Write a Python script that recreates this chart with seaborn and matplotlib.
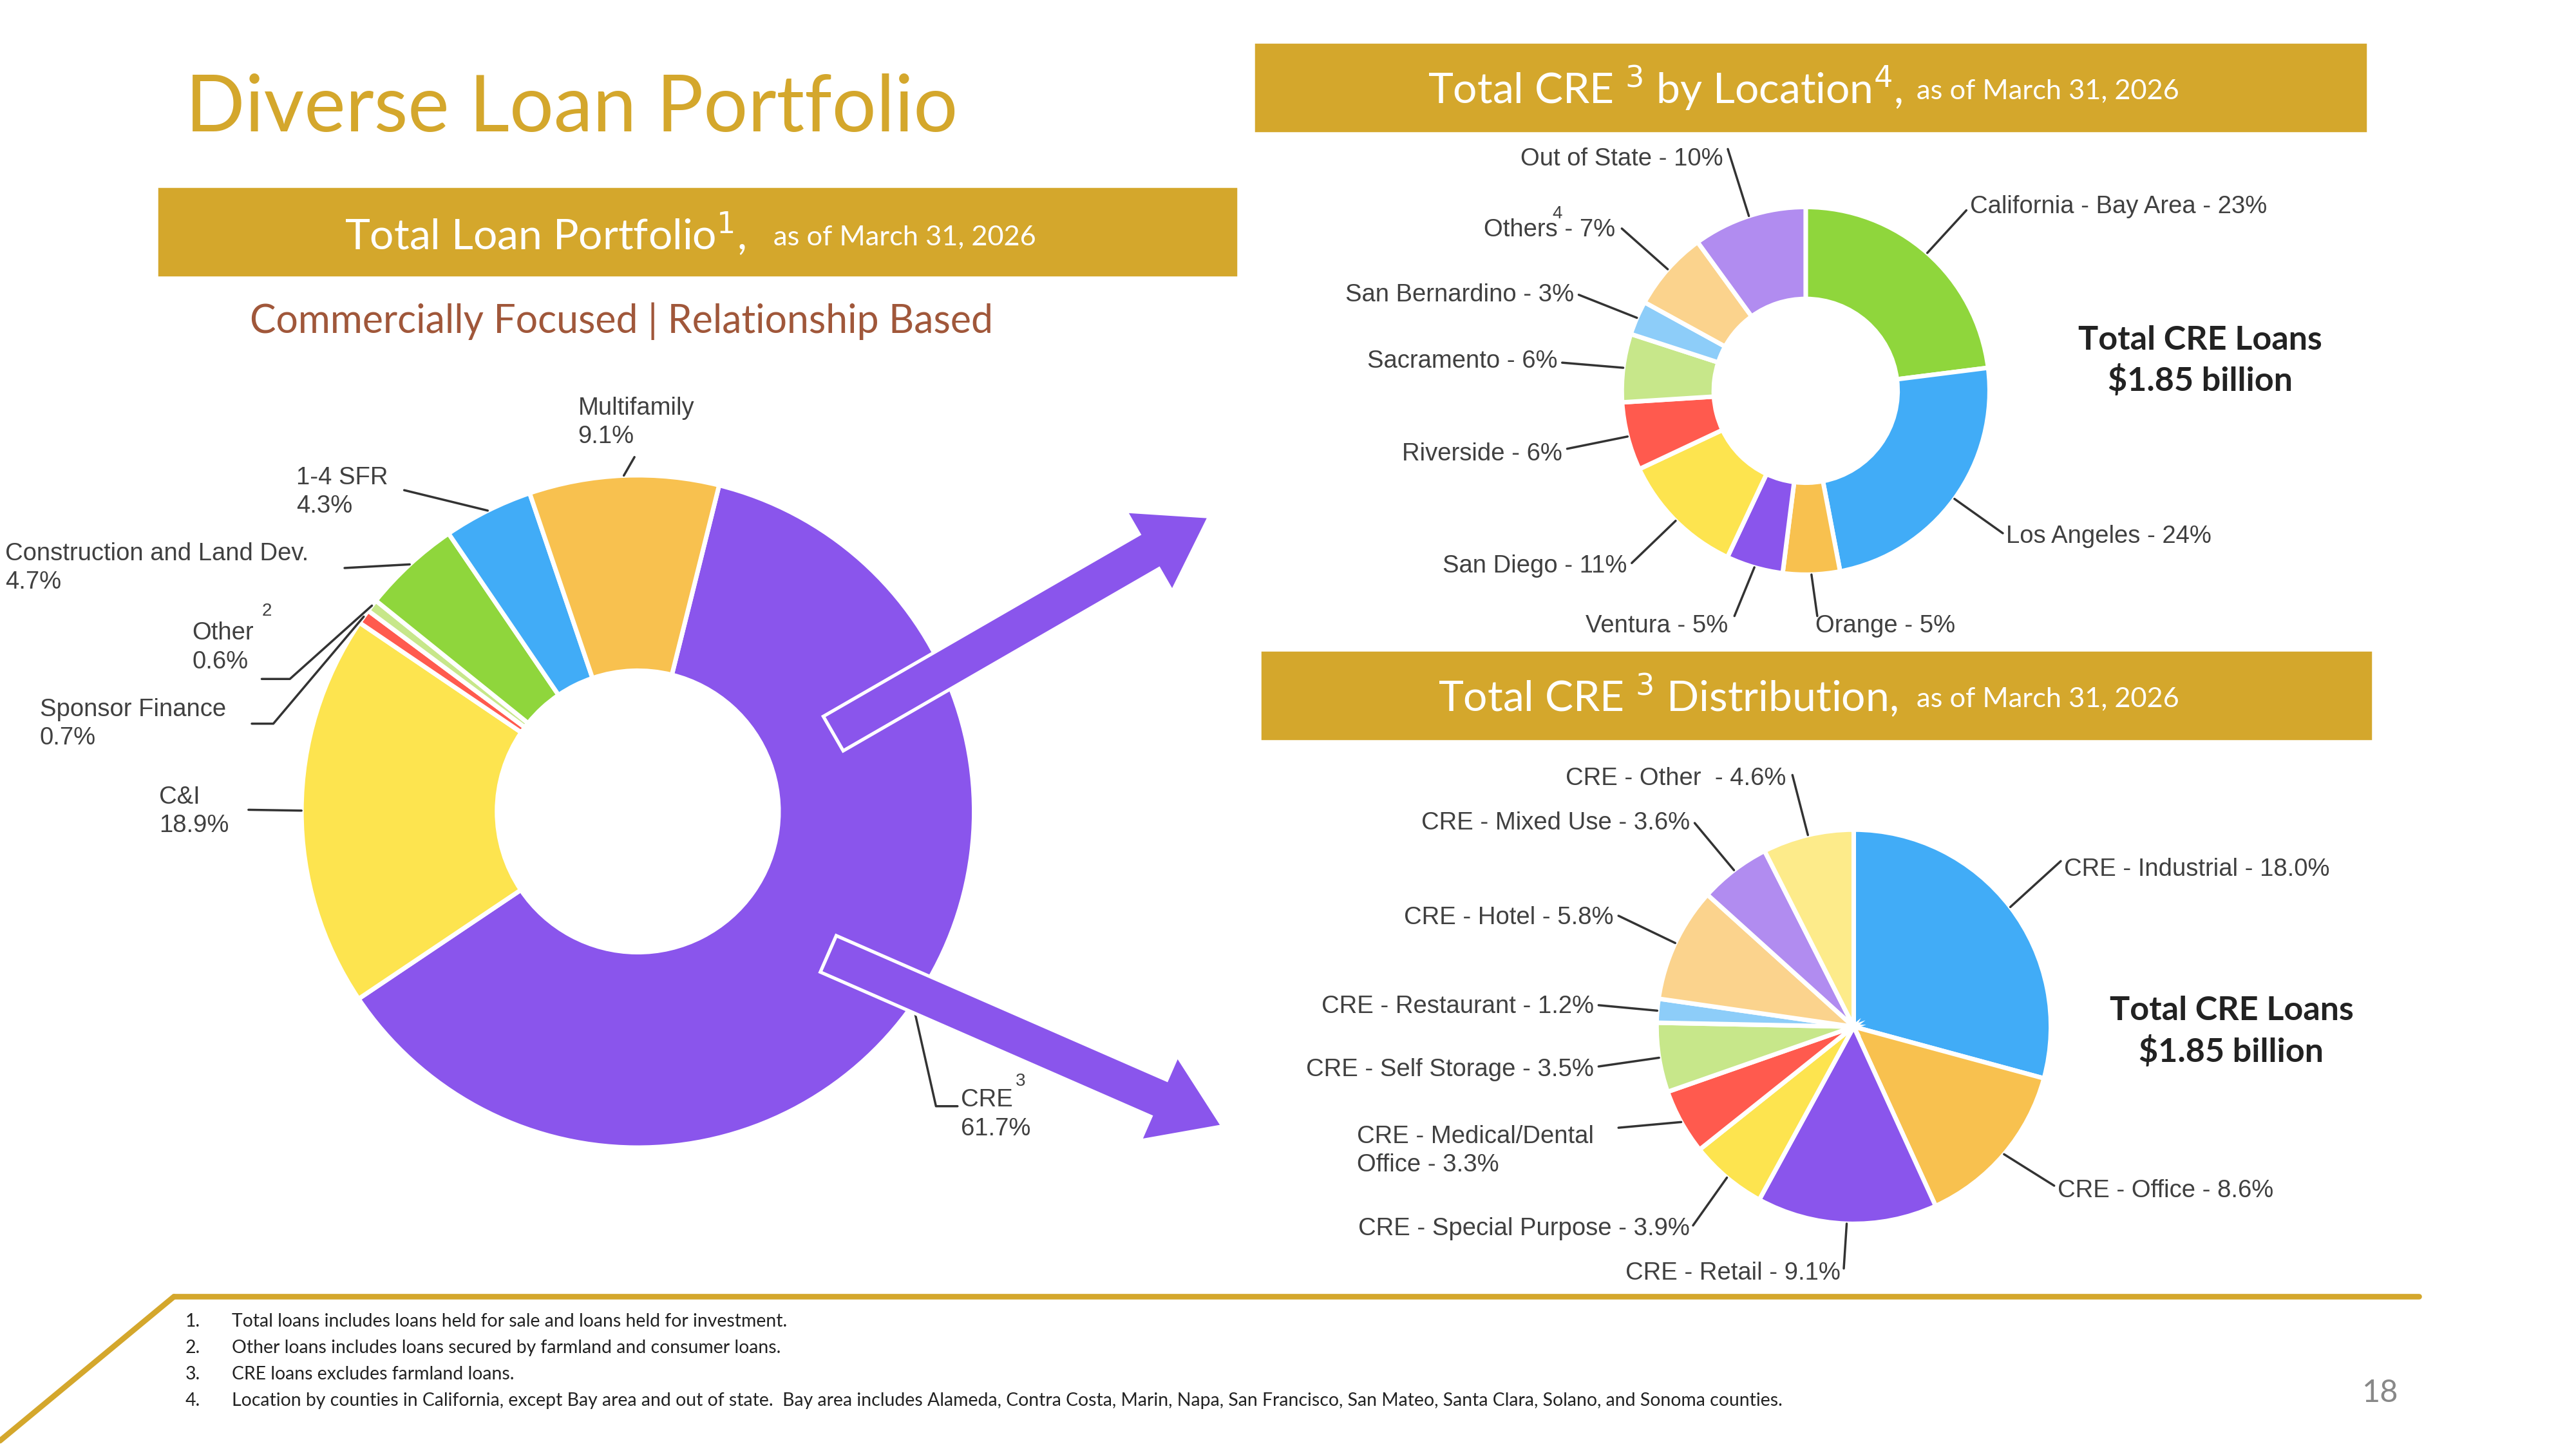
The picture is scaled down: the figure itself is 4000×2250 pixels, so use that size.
import numpy as np
import matplotlib
matplotlib.use("Agg")
import matplotlib.pyplot as plt
from matplotlib.patches import Rectangle, FancyArrow
import seaborn as sns

sns.set_theme(style="white")
plt.rcParams["font.family"] = ["Liberation Sans", "DejaVu Sans"]

# ---------------------------------------------------------------------------
# Data
# ---------------------------------------------------------------------------
loan_cats = ["CRE", "C&I", "Sponsor Finance", "Other", "Construction and Land Dev.", "1-4 SFR", "Multifamily"]
loan_vals = [61.7, 18.9, 0.7, 0.6, 4.7, 4.3, 9.1]

loc_cats = ["California - Bay Area", "Los Angeles", "Orange", "Ventura", "San Diego",
            "Riverside", "Sacramento", "San Bernardino", "Others", "Out of State"]
loc_vals = [23, 24, 5, 5, 11, 6, 6, 3, 7, 10]

dist_cats = ["CRE - Industrial", "CRE - Office", "CRE - Retail", "CRE - Special Purpose",
             "CRE - Medical/Dental Office", "CRE - Self Storage", "CRE - Restaurant",
             "CRE - Hotel", "CRE - Mixed Use", "CRE - Other"]
dist_vals = [18.0, 8.6, 9.1, 3.9, 3.3, 3.5, 1.2, 5.8, 3.6, 4.6]

footnotes = [
    "Total loans includes loans held for sale and loans held for investment.",
    "Other loans includes loans secured by farmland and consumer loans.",
    "CRE loans excludes farmland loans.",
    "Location by counties in California, except Bay area and out of state.  Bay area includes Alameda, "
    "Contra Costa, Marin, Napa, San Francisco, San Mateo, Santa Clara, Solano, and Sonoma counties.",
]

# ---------------------------------------------------------------------------
# Style
# ---------------------------------------------------------------------------
GOLD = "#D4A72C"
PURPLE = "#8A55EC"
YELLOW = "#FDE44F"
RED = "#FF5A4E"
LGREEN = "#C7E78A"
GREEN = "#8FD63C"
BLUE = "#41ACF7"
ORANGE = "#F8C14F"
LBLUE = "#8DCDF9"
PEACH = "#FBD38D"
LAV = "#B18CF0"
PALEY = "#FDEB8A"
TXT = "#404040"
TITLE_FONT = ["Lato", "DejaVu Sans"]

loan_colors = [PURPLE, YELLOW, RED, LGREEN, GREEN, BLUE, ORANGE]
loc_colors = [GREEN, BLUE, ORANGE, PURPLE, YELLOW, RED, LGREEN, LBLUE, PEACH, LAV]
dist_colors = [BLUE, ORANGE, PURPLE, YELLOW, RED, LGREEN, LBLUE, PEACH, LAV, PALEY]

W, H = 1555.0, 875.0
fig = plt.figure(figsize=(16, 9), dpi=250)

ov = fig.add_axes([0, 0, 1, 1], zorder=5)
ov.set_xlim(0, W)
ov.set_ylim(H, 0)
ov.axis("off")
ov.patch.set_alpha(0)


def pie_axes(cx, cy, r):
    ax = fig.add_axes([(cx - r) / W, 1 - (cy + r) / H, 2 * r / W, 2 * r / H], zorder=1)
    ax.axis("off")
    return ax


def fix_limits(ax):
    ax.set_aspect("auto")
    ax.set_xlim(-1, 1)
    ax.set_ylim(-1, 1)


def edge_points(vals, start, cx, cy, r):
    fr = np.array(vals, float) / np.sum(vals)
    cum = np.cumsum(fr) - fr / 2
    th = np.deg2rad(start - 360 * cum)
    return cx + r * np.cos(th), cy - r * np.sin(th)


def draw_labels(specs, ex, ey, size=11):
    for (txt, tx, ty, ha, pts), x, y in zip(specs, ex, ey):
        ov.text(tx, ty, txt, ha=ha, va="center", fontsize=size, color=TXT, linespacing=1.3)
        xs = [p[0] for p in pts] + [x]
        ys = [p[1] for p in pts] + [y]
        ov.plot(xs, ys, color="#333333", lw=1.0)


# ---------------------------------------------------------------------------
# Titles and banners
# ---------------------------------------------------------------------------
ov.text(112, 66, "Diverse Loan Portfolio", fontsize=35, color=GOLD, family=TITLE_FONT,
        va="center", ha="left")

for x0, y0, x1, y1 in [(96, 114, 746, 166), (758, 27, 1428, 79), (762, 394, 1431, 446)]:
    ov.add_patch(Rectangle((x0, y0), x1 - x0, y1 - y0, color=GOLD, zorder=0))

ov.text(208, 141, r"Total Loan Portfolio$^{1}$,", fontsize=19, color="white",
        family=TITLE_FONT, va="center")
ov.text(467, 143, "as of March 31, 2026", fontsize=12.5, color="white", family=TITLE_FONT, va="center")
ov.text(862, 53, r"Total CRE $^{3}$ by Location$^{4}$,", fontsize=19, color="white",
        family=TITLE_FONT, va="center")
ov.text(1157, 55, "as of March 31, 2026", fontsize=12.5, color="white", family=TITLE_FONT, va="center")
ov.text(868, 420, r"Total CRE $^{3}$ Distribution,", fontsize=19, color="white",
        family=TITLE_FONT, va="center")
ov.text(1157, 422, "as of March 31, 2026", fontsize=12.5, color="white", family=TITLE_FONT, va="center")

ov.text(375, 194, "Commercially Focused | Relationship Based", fontsize=17.5, color="#A0573A",
        family=TITLE_FONT, ha="center", va="center")

ov.text(1328, 218, "Total CRE Loans\n$1.85 billion", fontsize=15, color="#222222",
        family=TITLE_FONT, ha="center", va="center", linespacing=1.35, fontweight="bold")
ov.text(1347, 623, "Total CRE Loans\n$1.85 billion", fontsize=15, color="#222222",
        family=TITLE_FONT, ha="center", va="center", linespacing=1.35, fontweight="bold")

# ---------------------------------------------------------------------------
# Big donut
# ---------------------------------------------------------------------------
cx, cy, r = 385, 490, 203
ax1 = pie_axes(cx, cy, r)
ax1.pie(loan_vals, colors=loan_colors, startangle=76, counterclock=False, radius=1,
        wedgeprops=dict(width=1 - 85 / 203, edgecolor="white", linewidth=2))
fix_limits(ax1)
ex, ey = edge_points(loan_vals, 76, cx, cy, r)
loan_specs = [
    ("CRE\n61.7%", 580, 673, "left", [(578, 668), (565, 668)]),
    ("C&I\n18.9%", 96, 490, "left", [(150, 489)]),
    ("Sponsor Finance\n0.7%", 24, 437, "left", [(152, 437), (165, 437)]),
    ("Other\n0.6%", 116, 391, "left", [(158, 410), (175, 410)]),
    ("Construction and Land Dev.\n4.7%", 3, 343, "left", [(208, 343)]),
    ("1-4 SFR\n4.3%", 179, 297, "left", [(244, 296)]),
    ("Multifamily\n9.1%", 349, 255, "left", [(383, 276)]),
]
draw_labels(loan_specs, ex, ey)
ov.text(158, 369, "2", fontsize=8, color=TXT, va="center")
ov.text(613, 653, "3", fontsize=8, color=TXT, va="center")

# ---------------------------------------------------------------------------
# Location donut
# ---------------------------------------------------------------------------
cx, cy, r = 1090, 236, 111
ax2 = pie_axes(cx, cy, r)
ax2.pie(loc_vals, colors=loc_colors, startangle=90, counterclock=False, radius=1,
        wedgeprops=dict(width=0.5, edgecolor="white", linewidth=2))
fix_limits(ax2)
ex, ey = edge_points(loc_vals, 90, cx, cy, r)
loc_specs = [
    ("California - Bay Area - 23%", 1189, 125, "left", [(1187, 127)]),
    ("Los Angeles - 24%", 1211, 324, "left", [(1209, 322)]),
    ("Orange - 5%", 1096, 378, "left", [(1097, 372)]),
    ("Ventura - 5%", 1043, 378, "right", [(1047, 372)]),
    ("San Diego - 11%", 982, 342, "right", [(985, 340)]),
    ("Riverside - 6%", 943, 274, "right", [(946, 271)]),
    ("Sacramento - 6%", 940, 218, "right", [(943, 219)]),
    ("San Bernardino - 3%", 950, 178, "right", [(953, 178)]),
    ("Others - 7%", 975, 139, "right", [(979, 138)]),
    ("Out of State - 10%", 1040, 96, "right", [(1043, 90)]),
]
draw_labels(loc_specs, ex, ey)
ov.text(937, 129, "4", fontsize=8, color=TXT, va="center")

# ---------------------------------------------------------------------------
# Distribution pie
# ---------------------------------------------------------------------------
cx, cy, r = 1119, 620, 119
ax3 = pie_axes(cx, cy, r)
ax3.pie(dist_vals, colors=dist_colors, startangle=90, counterclock=False, radius=1,
        wedgeprops=dict(edgecolor="white", linewidth=2))
fix_limits(ax3)
ex, ey = edge_points(dist_vals, 90, cx, cy, r)
dist_specs = [
    ("CRE - Industrial - 18.0%", 1246, 525, "left", [(1244, 520)]),
    ("CRE - Office - 8.6%", 1242, 719, "left", [(1240, 716)]),
    ("CRE - Retail - 9.1%", 1111, 769, "right", [(1113, 766)]),
    ("CRE - Special Purpose - 3.9%", 1020, 742, "right", [(1022, 740)]),
    ("CRE - Medical/Dental\nOffice - 3.3%", 819, 695, "left", [(977, 681)]),
    ("CRE - Self Storage - 3.5%", 962, 646, "right", [(965, 644)]),
    ("CRE - Restaurant - 1.2%", 962, 608, "right", [(965, 607)]),
    ("CRE - Hotel - 5.8%", 974, 554, "right", [(977, 553)]),
    ("CRE - Mixed Use - 3.6%", 1020, 497, "right", [(1023, 497)]),
    ("CRE - Other  - 4.6%", 1078, 470, "right", [(1082, 468)]),
]
draw_labels(dist_specs, ex, ey)

# ---------------------------------------------------------------------------
# Arrows
# ---------------------------------------------------------------------------
for (x0, y0, x1, y1) in [(503, 443, 730, 312), (500, 576, 738, 680)]:
    ov.add_patch(FancyArrow(x0, y0, x1 - x0, y1 - y0, width=24, head_width=56,
                            head_length=42, length_includes_head=True,
                            facecolor=PURPLE, edgecolor="white", lw=1.5, zorder=6))

# ---------------------------------------------------------------------------
# Footer
# ---------------------------------------------------------------------------
ov.plot([105, 1460], [783, 783], color=GOLD, lw=2.5)
ov.plot([0, 105], [870, 783], color=GOLD, lw=2.5)
for i, fn in enumerate(footnotes):
    y = 798 + 16 * i
    ov.text(112, y, f"{i + 1}.", fontsize=8.2, color="#222222", family=TITLE_FONT, va="center")
    ov.text(140, y, fn, fontsize=8.2, color="#222222", family=TITLE_FONT, va="center")
ov.text(1437, 841, "18", fontsize=14, color="#888888", family=TITLE_FONT, ha="center", va="center")

fig.savefig("out.png", dpi=250, facecolor="white")
